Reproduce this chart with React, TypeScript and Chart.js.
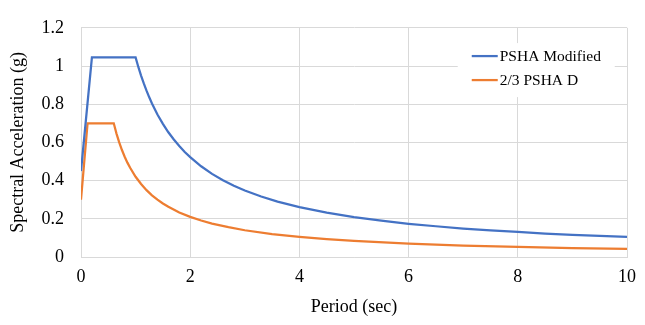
import React, { useEffect, useRef } from "react";
import { Chart, registerables } from "chart.js";

Chart.register(...registerables);

const seriesNames = ["PSHA Modified", "2/3 PSHA D"];

const psaPeriods = [
  0, 0.2, 1.0, 1.05, 1.1, 1.15, 1.2, 1.25, 1.3, 1.4, 1.5, 1.6, 1.7, 1.8, 1.9, 2.0,
  2.2, 2.4, 2.6, 2.8, 3.0, 3.3, 3.6, 4.0, 4.5, 5, 5.5, 6, 6.5, 7, 7.5, 8, 8.5, 9, 9.5, 10,
];
const psaValues = [
  0.45, 1.045, 1.045, 0.995, 0.95, 0.909, 0.871, 0.836, 0.804, 0.746, 0.697, 0.653, 0.615,
  0.581, 0.55, 0.523, 0.475, 0.435, 0.402, 0.373, 0.348, 0.317, 0.29, 0.261, 0.232, 0.209,
  0.19, 0.174, 0.161, 0.149, 0.139, 0.131, 0.123, 0.116, 0.11, 0.105,
];

const dPeriods = [
  0, 0.12, 0.6, 0.65, 0.7, 0.75, 0.8, 0.85, 0.9, 1.0, 1.1, 1.2, 1.3, 1.4, 1.5, 1.6, 1.8,
  2.0, 2.2, 2.4, 2.7, 3.0, 3.5, 4, 4.5, 5, 6, 7, 8, 9, 10,
];
const dValues = [
  0.3, 0.7, 0.7, 0.646, 0.6, 0.56, 0.525, 0.494, 0.467, 0.42, 0.382, 0.35, 0.323, 0.3,
  0.28, 0.263, 0.233, 0.21, 0.191, 0.175, 0.156, 0.14, 0.12, 0.105, 0.093, 0.084, 0.07,
  0.06, 0.053, 0.047, 0.042,
];

const yTickLabels = ["0", "0.2", "0.4", "0.6", "0.8", "1", "1.2"];

const colors = ["#4472C4", "#ED7D31"];
const FONT = "'Liberation Serif', 'Times New Roman', serif";

const legendPlugin = {
  id: "insideLegend",
  afterDraw(chart: any) {
    const ctx = chart.ctx;
    const xs = chart.scales.x;
    const ys = chart.scales.y;
    const bx = xs.getPixelForValue(6.9);
    const by = ys.getPixelForValue(1.12);
    const bw = 157;
    const bh = 54;
    ctx.save();
    ctx.fillStyle = "#ffffff";
    ctx.fillRect(bx, by, bw, bh);
    ctx.font = `15.5px ${FONT}`;
    ctx.textBaseline = "middle";
    seriesNames.forEach((name, i) => {
      const y = by + 13 + i * 24;
      ctx.strokeStyle = colors[i];
      ctx.lineWidth = 2.25;
      ctx.beginPath();
      ctx.moveTo(bx + 14, y);
      ctx.lineTo(bx + 40, y);
      ctx.stroke();
      ctx.fillStyle = "#000000";
      ctx.fillText(name, bx + 42, y + 1);
    });
    ctx.restore();
  },
};

export default function App() {
  const ref = useRef<HTMLCanvasElement>(null);
  useEffect(() => {
    document.body.style.margin = "0";
    const mk = (xs: number[], ys: number[]) => xs.map((x, i) => ({ x, y: ys[i] }));
    const chart = new Chart(ref.current!, {
      type: "line",
      data: {
        datasets: [
          {
            label: seriesNames[0],
            data: mk(psaPeriods, psaValues),
            borderColor: colors[0],
            backgroundColor: colors[0],
            borderWidth: 2.25,
            pointRadius: 0,
            tension: 0,
          },
          {
            label: seriesNames[1],
            data: mk(dPeriods, dValues),
            borderColor: colors[1],
            backgroundColor: colors[1],
            borderWidth: 2.25,
            pointRadius: 0,
            tension: 0,
          },
        ],
      },
      options: {
        animation: false,
        responsive: false,
        layout: { padding: { top: 14, right: 18, left: 0, bottom: 0 } },
        plugins: { legend: { display: false }, tooltip: { enabled: false } },
        scales: {
          x: {
            type: "linear",
            min: 0,
            max: 10,
            ticks: { stepSize: 2, padding: 9, color: "#000", font: { family: FONT, size: 18 } },
            grid: { color: "#d9d9d9", drawTicks: false },
            border: { color: "#d9d9d9" },
            title: {
              display: true,
              text: "Period (sec)",
              color: "#000",
              font: { family: FONT, size: 18 },
              padding: { top: 0, bottom: 7 },
            },
            afterFit: (s: any) => {
              s.height = 68;
            },
          },
          y: {
            min: 0,
            max: 1.2,
            ticks: {
              stepSize: 0.2,
              padding: 17,
              color: "#000",
              font: { family: FONT, size: 18 },
              callback: (_v: any, i: number) => yTickLabels[i],
            },
            grid: { color: "#d9d9d9", drawTicks: false },
            border: { color: "#d9d9d9" },
            title: {
              display: true,
              text: "Spectral Acceleration (g)",
              color: "#000",
              font: { family: FONT, size: 18 },
              padding: { top: 7, bottom: 0 },
            },
            afterFit: (s: any) => {
              s.width = 81;
            },
          },
        },
      },
      plugins: [legendPlugin],
    });
    return () => chart.destroy();
  }, []);
  return <canvas ref={ref} width={645} height={325} />;
}
